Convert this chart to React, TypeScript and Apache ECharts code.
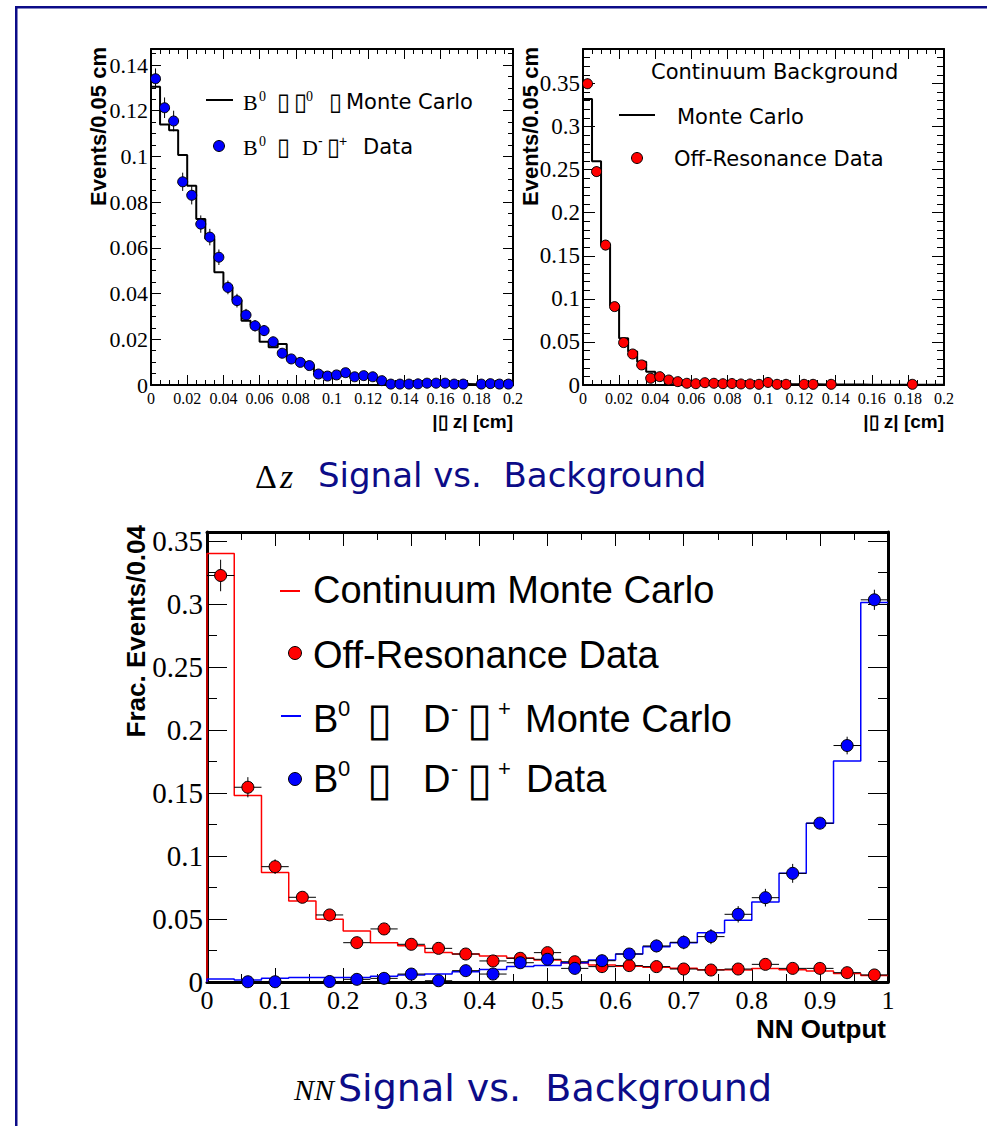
import React, { useEffect, useRef } from "react";
import * as echarts from "echarts";

// ---------- data ----------
const dzBinWidth = 0.005;
const nnBinWidth = 0.04;

// Top-left: signal |Δz|
const sigDzMC = [0.1305, 0.114, 0.1115, 0.1006, 0.0872, 0.0726, 0.064, 0.0493, 0.0427, 0.0372, 0.0281, 0.0262, 0.0189, 0.0165, 0.0179, 0.0117, 0.0102, 0.0087, 0.0058, 0.005, 0.0046, 0.0042, 0.0042, 0.0036, 0.0029, 0.0015, 0.001, 0.0008, 0.0007, 0.0006, 0.0006, 0.0005, 0.0005, 0.0004, 0.0004, 0.0003, 0.0003, 0.0003, 0.0002, 0.0002];
const sigDzData = [0.134, 0.1213, 0.1155, 0.0889, 0.083, 0.0704, 0.0647, 0.0559, 0.0427, 0.0369, 0.0306, 0.0259, 0.0238, 0.0189, 0.0139, 0.0114, 0.0099, 0.0085, 0.0048, 0.0039, 0.0044, 0.0054, 0.0036, 0.0041, 0.0036, 0.0019, 0.0004, 0.0004, 0.0004, 0.0005, 0.0008, 0.0008, 0.0008, 0.0004, 0.0004, null, 0.0004, 0.0006, 0.0004, 0.0004];
const sigDzErr = [0.0045, 0.0045, 0.0045, 0.004, 0.004, 0.0038, 0.0036, 0.0034, 0.003, 0.003, 0.0027, 0.0025, 0.0024, 0.0022, 0.002, 0.0018, 0.0017, 0.0016, 0.0013, 0.0012, 0.0012, 0.0013, 0.0011, 0.0011, 0.0011, 0.0008, 0.0004, 0.0004, 0.0004, 0.0005, 0.0006, 0.0006, 0.0006, 0.0004, 0.0004, 0, 0.0004, 0.0005, 0.0004, 0.0004];

// Top-right: continuum background |Δz|
const bkgDzMC = [0.332, 0.2597, 0.163, 0.0919, 0.0543, 0.0388, 0.0271, 0.0155, 0.0116, 0.007, 0.0052, 0.004, 0.003, 0.0025, 0.0022, 0.002, 0.0018, 0.0016, 0.0014, 0.0013, 0.0012, 0.0011, 0.001, 0.0009, 0.0008, 0.0008, 0.0007, 0.0006, 0.0006, 0.0005, 0.0005, 0.0004, 0.0004, 0.0004, 0.0003, 0.0003, 0.0003, 0.0002, 0.0002, 0.0002];
const bkgDzData = [0.3497, 0.2477, 0.1624, 0.091, 0.0492, 0.036, 0.0233, 0.0078, 0.0097, 0.0058, 0.0039, 0.002, 0.0015, 0.0027, 0.002, 0.0015, 0.0017, 0.0012, 0.0012, 0.0008, 0.003, 0.0008, 0.0008, null, 0.0008, 0.0008, null, 0.0008, null, null, null, null, null, null, null, null, 0.0008, null, null, null];
const bkgDzErr = [0.006, 0.006, 0.006, 0.004, 0.003, 0.0025, 0.002, 0.001, 0.0011, 0.0009, 0.0007, 0.0005, 0.0004, 0.0006, 0.0005, 0.0004, 0.0005, 0.0004, 0.0004, 0.0003, 0.0006, 0.0003, 0.0003, 0, 0.0003, 0.0003, 0, 0.0003, 0, 0, 0, 0, 0, 0, 0, 0, 0.0003, 0, 0, 0];

// Bottom: NN output
const contNNMC = [0.34, 0.1479, 0.0868, 0.0643, 0.0497, 0.0405, 0.0312, 0.0288, 0.0235, 0.0222, 0.0206, 0.019, 0.0175, 0.015, 0.0135, 0.0125, 0.0118, 0.011, 0.0098, 0.0095, 0.0108, 0.0098, 0.0088, 0.0068, 0.0052];
const offNNData = [0.3225, 0.1545, 0.0915, 0.0672, 0.0532, 0.0312, 0.0421, 0.0299, 0.0267, 0.0222, 0.0167, 0.0188, 0.0233, 0.0161, 0.0122, 0.013, 0.0122, 0.0103, 0.0095, 0.0103, 0.014, 0.0108, 0.0108, 0.0074, 0.0056];
const offNNErr = [0.0125, 0.008, 0.0058, 0.004, 0.0035, 0.003, 0.0035, 0.003, 0.003, 0.0028, 0.0025, 0.0026, 0.003, 0.0025, 0.0022, 0.0022, 0.0022, 0.002, 0.002, 0.002, 0.0025, 0.0022, 0.0022, 0.0018, 0.0016];
const sigNNMC = [0.0024, 0.0016, 0.003, 0.0036, 0.0036, 0.0036, 0.0045, 0.0055, 0.0063, 0.0082, 0.01, 0.0122, 0.013, 0.0153, 0.0175, 0.0222, 0.028, 0.0312, 0.039, 0.049, 0.0635, 0.0862, 0.126, 0.1754, 0.301];
const sigNNData = [null, 0.0002, 0.0002, null, 0.0004, 0.0021, 0.0029, 0.0063, 0.001, 0.009, 0.0063, 0.0153, 0.018, 0.0108, 0.0169, 0.0222, 0.0286, 0.0315, 0.036, 0.0537, 0.0669, 0.0862, 0.126, 0.1876, 0.3032];
const sigNNErr = [0, 0.0008, 0.0008, 0, 0.001, 0.0015, 0.0017, 0.0025, 0.001, 0.003, 0.0025, 0.0038, 0.004, 0.003, 0.004, 0.0045, 0.005, 0.0055, 0.006, 0.0065, 0.007, 0.0075, 0.004, 0.007, 0.008];

// ---------- helpers ----------
const NAVY = "#0c0c88";
const BOX = "\u25AF";

function stepData(values: number[], bw: number) {
  const pts: number[][] = [[0, 0]];
  values.forEach((v, i) => pts.push([i * bw, v]));
  pts.push([values.length * bw, values[values.length - 1]]);
  return pts;
}
function pointData(values: (number | null)[], errs: number[], bw: number, hw: number) {
  const out: number[][] = [];
  values.forEach((v, i) => {
    if (v === null || v === undefined) return;
    out.push([(i + 0.5) * bw, v, errs[i] || 0, hw]);
  });
  return out;
}

function txt(x: number, y: number, text: string, size: number, family: string, o: any = {}) {
  return {
    type: "text",
    x,
    y,
    rotation: o.rotation || 0,
    silent: true,
    z: 100,
    style: {
      text,
      fontSize: size,
      fontFamily: family,
      fontWeight: o.weight || "normal",
      fontStyle: o.italic ? "italic" : "normal",
      fill: o.fill || "#000",
      align: o.align || "left",
      textAlign: o.align || "left",
      verticalAlign: o.va || "middle",
      textVerticalAlign: o.va || "middle",
    },
  };
}

type Part = { t: string; f: string; s: number; w?: number; sup?: boolean };
function richRow(x: number, y: number, lh: number, parts: Part[]) {
  const rich: any = {};
  let text = "";
  parts.forEach((p, i) => {
    const key = "p" + i;
    text += "{" + key + "|" + p.t + "}";
    const st: any = {
      fontFamily: p.f,
      fontSize: p.s,
      fill: "#000",
      verticalAlign: p.sup ? "top" : "middle",
      lineHeight: p.sup ? Math.round(p.s * 1.1) : lh,
    };
    if (p.w) st.width = p.w;
    rich[key] = st;
  });
  return {
    type: "text",
    x,
    y,
    silent: true,
    z: 100,
    style: { text, rich, align: "left", textAlign: "left", verticalAlign: "middle", textVerticalAlign: "middle" },
  };
}

function xAxes(grid: number, min: number, max: number, interval: number, split: number, fs: number, major: number, minor: number, lw: number, margin: number) {
  const common = {
    type: "value",
    gridIndex: grid,
    min,
    max,
    interval,
    splitLine: { show: false },
    minorSplitLine: { show: false },
    axisLine: { show: true, onZero: false, lineStyle: { color: "#000", width: lw } },
    axisTick: { show: true, inside: true, length: major, lineStyle: { color: "#000", width: 1 } },
    minorTick: { show: true, splitNumber: split, length: minor, lineStyle: { color: "#000", width: 1 } },
  };
  return [
    {
      ...common,
      position: "bottom",
      axisLabel: { show: true, color: "#000", fontFamily: "Liberation Serif", fontSize: fs, margin },
    },
    { ...common, position: "top", axisLabel: { show: false } },
  ];
}
function yAxes(grid: number, min: number, max: number, interval: number, split: number, fs: number, major: number, minor: number, lw: number, margin: number) {
  const common = {
    type: "value",
    gridIndex: grid,
    min,
    max,
    interval,
    splitLine: { show: false },
    minorSplitLine: { show: false },
    axisLine: { show: true, onZero: false, lineStyle: { color: "#000", width: lw } },
    axisTick: { show: true, inside: true, length: major, lineStyle: { color: "#000", width: 1 } },
    minorTick: { show: true, splitNumber: split, length: minor, lineStyle: { color: "#000", width: 1 } },
  };
  return [
    {
      ...common,
      position: "left",
      axisLabel: { show: true, color: "#000", fontFamily: "Liberation Serif", fontSize: fs, margin, showMaxLabel: false },
    },
    { ...common, position: "right", axisLabel: { show: false } },
  ];
}

const errRender = (params: any, api: any) => {
  const x = api.value(0);
  const y = api.value(1);
  const e = api.value(2);
  const hw = api.value(3);
  const c = api.coord([x, y]);
  const top = api.coord([x, y + e]);
  const bot = api.coord([x, Math.max(y - e, 0)]);
  const children: any[] = [];
  if (e > 0) {
    children.push({ type: "line", shape: { x1: c[0], y1: top[1], x2: c[0], y2: bot[1] }, style: { stroke: "#000", lineWidth: 1 } });
  }
  if (hw > 0) {
    const l = api.coord([x - hw, y]);
    const r = api.coord([x + hw, y]);
    children.push({ type: "line", shape: { x1: l[0], y1: c[1], x2: r[0], y2: c[1] }, style: { stroke: "#000", lineWidth: 1 } });
  }
  return { type: "group", children };
};

const SER = "Liberation Serif";
const SANS = "Liberation Sans";
const DJ = "DejaVu Sans";

export default function App() {
  const ref = useRef<HTMLDivElement>(null);
  useEffect(() => {
    if (!ref.current) return;
    const chart = echarts.init(ref.current, null, { renderer: "svg" });

    const xs = [
      ...xAxes(0, 0, 0.2, 0.02, 4, 16, 10, 5, 2, 5),
      ...xAxes(1, 0, 0.2, 0.02, 4, 16, 10, 5, 2, 5),
      ...xAxes(2, 0, 1, 0.1, 2, 26, 14, 8, 3, 5),
    ];
    const ys = [
      ...yAxes(0, 0, 0.147, 0.02, 4, 22, 10, 5, 2, 3),
      ...yAxes(1, 0, 0.39, 0.05, 5, 23, 12, 7, 2, 3),
      ...yAxes(2, 0, 0.357, 0.05, 2, 29, 20, 10, 3, 4),
    ];

    const sym = (name: string, xi: number, yi: number, data: number[][], color: string, size: number) => [
      {
        name: name + " err",
        type: "custom",
        xAxisIndex: xi,
        yAxisIndex: yi,
        renderItem: errRender,
        data,
        encode: { x: 0, y: 1 },
        z: 5,
        silent: true,
      },
      {
        name,
        type: "scatter",
        xAxisIndex: xi,
        yAxisIndex: yi,
        data: data.map((d) => [d[0], d[1]]),
        symbol: "circle",
        symbolSize: size,
        itemStyle: { color, borderColor: "#000", borderWidth: 1, opacity: 1 },
        z: 6,
        silent: true,
      },
    ];
    const hist = (name: string, xi: number, yi: number, values: number[], bw: number, color: string, w: number) => ({
      name,
      type: "line",
      xAxisIndex: xi,
      yAxisIndex: yi,
      data: stepData(values, bw),
      step: "end",
      symbol: "none",
      lineStyle: { color, width: w },
      z: 3,
      silent: true,
    });

    const graphic: any[] = [
      // slide frame
      { type: "rect", shape: { x: 15, y: 6, width: 972, height: 2.5 }, style: { fill: NAVY }, silent: true },
      { type: "rect", shape: { x: 15, y: 6, width: 2.5, height: 1120 }, style: { fill: NAVY }, silent: true },

      // axis titles
      txt(98, 47, "Events/0.05 cm", 22, SANS, { weight: "bold", rotation: Math.PI / 2, align: "right" }),
      txt(530, 47, "Events/0.05 cm", 22, SANS, { weight: "bold", rotation: Math.PI / 2, align: "right" }),
      txt(513, 421, "|" + BOX + " z| [cm]", 19, SANS, { weight: "bold", align: "right" }),
      txt(944, 421, "|" + BOX + " z| [cm]", 19, SANS, { weight: "bold", align: "right" }),
      txt(136, 525, "Frac. Events/0.04", 26, SANS, { weight: "bold", rotation: Math.PI / 2, align: "right" }),
      txt(886, 1029, "NN Output", 26, SANS, { weight: "bold", align: "right" }),

      // top-left legend
      { type: "line", shape: { x1: 206, y1: 100, x2: 233, y2: 100 }, style: { stroke: "#000", lineWidth: 2 }, silent: true },
      richRow(243, 102, 26, [
        { t: "B", f: SER, s: 22, w: 16 },
        { t: "0", f: SER, s: 14, w: 18, sup: true },
        { t: BOX, f: DJ, s: 24, w: 17 },
        { t: BOX, f: DJ, s: 24, w: 12 },
        { t: "0", f: SER, s: 14, w: 23, sup: true },
        { t: BOX, f: DJ, s: 24, w: 17 },
        { t: "Monte Carlo", f: DJ, s: 21 },
      ]),
      { type: "circle", shape: { cx: 219, cy: 146, r: 5.5 }, style: { fill: "#0000ff", stroke: "#000", lineWidth: 1 }, silent: true },
      richRow(243, 147, 26, [
        { t: "B", f: SER, s: 22, w: 16 },
        { t: "0", f: SER, s: 14, w: 18, sup: true },
        { t: BOX, f: DJ, s: 24, w: 25 },
        { t: "D", f: SER, s: 22, w: 16 },
        { t: "-", f: SANS, s: 14, w: 9, sup: true },
        { t: BOX, f: DJ, s: 24, w: 12 },
        { t: "+", f: SANS, s: 14, w: 24, sup: true },
        { t: "Data", f: DJ, s: 21 },
      ]),

      // top-right legend
      txt(651, 72, "Continuum Background", 21, DJ),
      { type: "line", shape: { x1: 619, y1: 115, x2: 655, y2: 115 }, style: { stroke: "#000", lineWidth: 2 }, silent: true },
      txt(677, 117, "Monte Carlo", 21, DJ),
      { type: "circle", shape: { cx: 637, cy: 158, r: 5.5 }, style: { fill: "#ff0000", stroke: "#000", lineWidth: 1 }, silent: true },
      txt(674, 159, "Off-Resonance Data", 21, DJ),

      // bottom legend
      { type: "line", shape: { x1: 280, y1: 591, x2: 300, y2: 591 }, style: { stroke: "#ff0000", lineWidth: 2 }, silent: true },
      txt(313, 590, "Continuum Monte Carlo", 38, SANS),
      { type: "circle", shape: { cx: 295, cy: 653, r: 6.5 }, style: { fill: "#ff0000", stroke: "#000", lineWidth: 1 }, silent: true },
      txt(313, 655, "Off-Resonance Data", 38, SANS),
      { type: "line", shape: { x1: 281, y1: 716, x2: 301, y2: 716 }, style: { stroke: "#0000ff", lineWidth: 2 }, silent: true },
      richRow(313, 719, 44, [
        { t: "B", f: SANS, s: 38, w: 25 },
        { t: "0", f: SANS, s: 22, w: 29, sup: true },
        { t: BOX, f: DJ, s: 46, w: 56 },
        { t: "D", f: SANS, s: 38, w: 28 },
        { t: "-", f: SANS, s: 22, w: 16, sup: true },
        { t: BOX, f: DJ, s: 46, w: 31 },
        { t: "+", f: SANS, s: 22, w: 27, sup: true },
        { t: "Monte Carlo", f: SANS, s: 38 },
      ]),
      { type: "circle", shape: { cx: 295, cy: 779, r: 6.5 }, style: { fill: "#0000ff", stroke: "#000", lineWidth: 1 }, silent: true },
      richRow(313, 779, 44, [
        { t: "B", f: SANS, s: 38, w: 25 },
        { t: "0", f: SANS, s: 22, w: 29, sup: true },
        { t: BOX, f: DJ, s: 46, w: 56 },
        { t: "D", f: SANS, s: 38, w: 28 },
        { t: "-", f: SANS, s: 22, w: 16, sup: true },
        { t: BOX, f: DJ, s: 46, w: 31 },
        { t: "+", f: SANS, s: 22, w: 28, sup: true },
        { t: "Data", f: SANS, s: 38 },
      ]),

      // slide titles
      txt(255, 476, "\u0394", 34, SER),
      txt(280, 476, "z", 34, SER, { italic: true }),
      txt(318, 475, "Signal vs.  Background", 34, DJ, { fill: NAVY }),
      txt(294, 1089, "NN", 30, SER, { italic: true }),
      txt(338, 1088, "Signal vs.  Background", 38, DJ, { fill: NAVY }),
    ];

    chart.setOption({
      animation: false,
      backgroundColor: "#ffffff",
      grid: [
        { left: 151, top: 49, width: 362, height: 336, outerBoundsMode: "none" },
        { left: 583, top: 49, width: 361, height: 336, outerBoundsMode: "none" },
        { left: 207, top: 532, width: 681, height: 450, outerBoundsMode: "none" },
      ],
      xAxis: xs,
      yAxis: ys,
      series: [
        hist("B0 MC", 0, 0, sigDzMC, dzBinWidth, "#000", 2),
        ...sym("B0 Data", 0, 0, pointData(sigDzData, sigDzErr, dzBinWidth, 0), "#0000ff", 10),
        hist("Continuum MC", 2, 2, bkgDzMC, dzBinWidth, "#000", 2),
        ...sym("Off-Resonance Data", 2, 2, pointData(bkgDzData, bkgDzErr, dzBinWidth, 0), "#ff0000", 10),
        hist("Continuum Monte Carlo", 4, 4, contNNMC, nnBinWidth, "#ff0000", 1.5),
        hist("B0 Monte Carlo", 4, 4, sigNNMC, nnBinWidth, "#0000ff", 1.5),
        ...sym("Off-Resonance NN Data", 4, 4, pointData(offNNData, offNNErr, nnBinWidth, nnBinWidth / 2), "#ff0000", 12),
        ...sym("B0 NN Data", 4, 4, pointData(sigNNData, sigNNErr, nnBinWidth, nnBinWidth / 2), "#0000ff", 12),
      ],
      graphic,
    });
    return () => chart.dispose();
  }, []);
  return <div ref={ref} style={{ position: "absolute", left: 0, top: 0, width: 987, height: 1126, background: "#fff" }} />;
}
